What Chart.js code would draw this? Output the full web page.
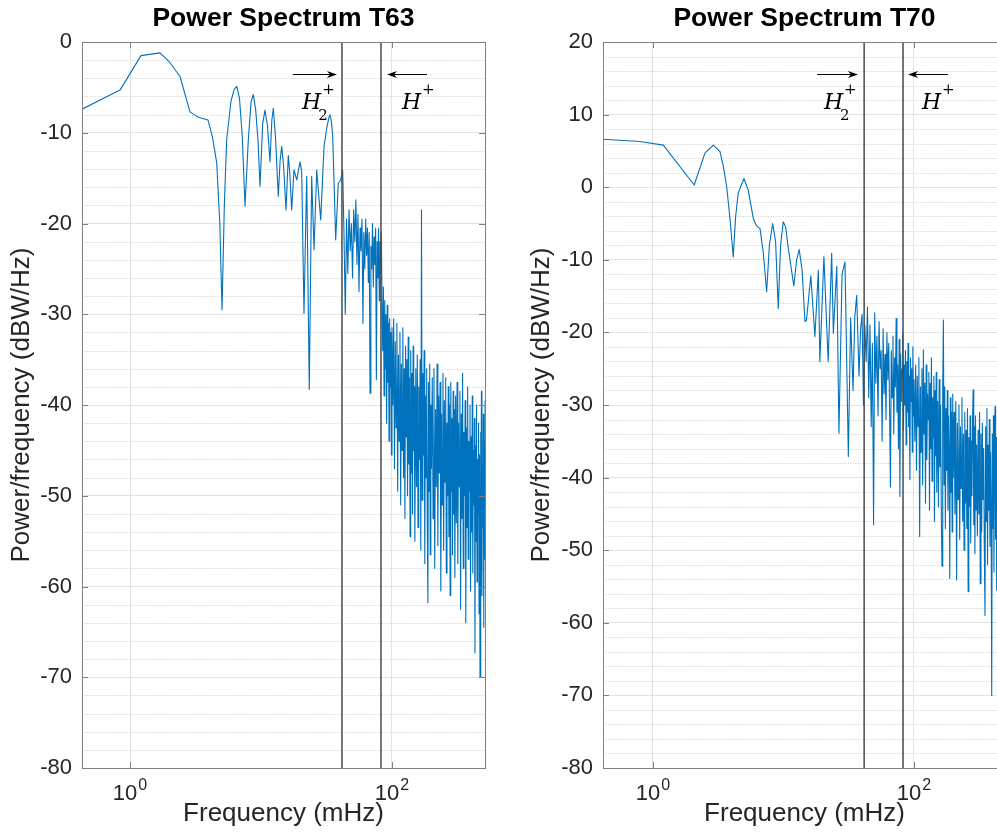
<!DOCTYPE html>
<html>
<head>
<meta charset="utf-8">
<title>Power Spectrum T63 / T70</title>
<script src="https://cdn.jsdelivr.net/npm/chart.js@4.4.1/dist/chart.umd.min.js"></script>
<style>
  html, body { margin: 0; padding: 0; background: #fff; overflow: hidden; }
  body { width: 997px; height: 834px; position: relative; }
  .panel { position: absolute; top: 0; height: 834px; }
  #panelT63 { left: 0; width: 520px; }
  #panelT70 { left: 520px; width: 500px; }
</style>
</head>
<body>
<div class="panel" id="panelT63"><canvas id="chartT63" width="520" height="834"></canvas></div>
<div class="panel" id="panelT70"><canvas id="chartT70" width="500" height="834"></canvas></div>
<script>
// low frequency part, mHz / dBW/Hz
const freqLowT63 = [0.43, 0.839, 1.213, 1.694, 2.0, 2.408, 2.87, 3.23, 3.53, 3.94,
  4.25, 4.59, 4.85, 5.04, 5.25, 5.47, 5.9, 6.25, 6.53, 6.85,
  7.2, 7.55, 8.0, 8.4, 8.73, 9.1, 9.5, 9.83, 10.3, 10.73,
  11.2, 11.71, 12.1, 12.42, 12.9, 13.55, 14.0, 14.39, 14.9, 15.52,
  16.16, 16.6, 17.15, 17.86, 18.73, 19.85, 20.45, 21.29, 22.33, 23.37,
  24.37, 25.41, 26.63, 28.57, 30.28, 31.76, 33.0, 33.65, 34.5, 35.27,
  37.17, 38.9, 40.57, 42.03];
const psdLowT63 = [-7.4, -5.3, -1.5, -1.2, -2.2, -3.8, -7.7, -8.2, -8.4, -8.6,
  -10.4, -13.3, -20.0, -29.5, -18.0, -10.8, -6.5, -5.2, -4.9, -6.2,
  -10.5, -18.1, -10.8, -6.6, -5.8, -7.4, -11.0, -15.9, -9.0, -7.5,
  -9.2, -13.2, -8.6, -7.3, -10.5, -17.0, -13.0, -11.5, -13.8, -18.5,
  -12.5, -14.5, -18.5, -14.1, -15.2, -13.2, -14.3, -29.9, -14.8, -38.3,
  -14.8, -22.9, -14.1, -19.6, -11.5, -9.5, -8.3, -8.0, -8.8, -10.4,
  -21.8, -15.6, -15.2, -14.1];

const freqLowT70 = [0.414, 0.795, 1.2, 2.07, 2.5, 2.9, 3.26, 3.45, 3.67, 3.9,
  4.12, 4.3, 4.5, 4.98, 5.37, 5.87, 6.2, 6.61, 7.0, 7.43,
  7.8, 8.26, 8.7, 9.12, 9.5, 9.96, 10.4, 10.8, 12.0, 12.6,
  13.2, 13.9, 14.6, 15.0, 16.2, 17.4, 18.5, 19.0, 20.4, 22.0,
  23.4, 24.1, 25.6, 26.6, 28.1, 29.6, 31.4, 32.7, 34.1, 35.2,
  36.4, 37.9, 39.0, 40.0, 41.0, 42.0];
const psdLowT70 = [6.6, 6.3, 5.8, 0.3, 4.7, 5.8, 4.9, 3.0, 0.1, -4.5,
  -9.6, -4.0, -0.8, 1.2, -0.4, -4.3, -5.3, -5.7, -9.0, -14.4,
  -8.0, -5.0, -7.5, -16.7, -8.0, -4.75, -5.5, -8.0, -13.6, -10.0,
  -8.6, -11.5, -18.5, -18.3, -12.2, -20.6, -11.4, -24.0, -9.6, -24.0,
  -9.1, -20.1, -10.9, -33.9, -12.0, -10.3, -37.1, -18.0, -28.0, -17.8,
  -14.9, -26.0, -19.5, -17.5, -30.0, -19.0];

// noisy high frequency part, same bins for both runs
const freqHigh = [
  43, 44, 45, 46, 47, 48, 49, 50, 51, 52, 53, 54, 55, 56, 57, 58, 59, 60, 61, 62, 63,
  64, 65, 66, 67, 68, 69, 70, 71, 72, 73, 74, 75, 76, 77, 78, 79, 80, 81, 82, 83, 84,
  85, 86, 87, 88, 89, 90, 91, 92, 93, 94, 95, 96, 97, 98, 99, 100,
  101.5, 103, 104.5, 106, 107.5, 109, 110.5, 112, 113.5, 115, 116.5, 118, 119.5, 121, 122.5, 124, 125.5,
  127, 128.5, 130, 131.5, 133, 134.5, 136, 137.5, 139, 140.5, 142, 143.5, 145, 146.5, 148, 149.5,
  152, 154, 156, 158, 160, 162, 164, 166, 168, 170, 172, 174, 176, 178, 180, 182, 184, 186, 188, 190,
  192, 194, 196, 198, 200,
  203, 206, 209, 212, 215, 218, 221, 224, 227, 230, 233, 236, 239, 242, 245, 248, 251, 254, 257, 260,
  263, 266, 269, 272, 275, 278, 281, 284, 287, 290, 293, 296, 299, 302,
  306, 310, 314, 318, 322, 326, 330, 334, 338, 342, 346, 350, 354, 358, 362, 366, 370, 374, 378, 382,
  386, 390, 394, 398, 402, 406, 410, 414, 418, 422, 426, 430, 434, 438, 442, 446, 450, 454, 458, 462,
  466, 470, 474, 478, 482, 486, 490, 494, 498, 502, 506, 510, 514, 518];
const psdHighT63 = [
  -21.0, -30.0, -19.5, -25.5, -18.5, -23.0, -20.0, -26.0, -18.5, -22.0, -17.4, -24.5, -19.0, -27.5, -20.5, -23.0, -19.5, -31.0, -21.0, -25.0, -19.5,
  -23.5, -20.5, -26.5, -21.0, -38.7, -22.5, -25.0, -20.0, -27.0, -21.5, -24.5, -20.5, -37.2, -22.0, -26.0, -20.5, -28.5, -22.0, -25.5, -21.0, -30.0,
  -34.0, -27.0, -39.0, -28.5, -36.0, -30.0, -42.0, -29.0, -37.5, -31.0, -44.0, -30.5, -38.0, -32.0, -45.5, -31.5,
  -40.0, -30.5, -47.0, -33.0, -42.5, -31.0, -49.5, -34.5, -44.0, -32.0, -51.0, -35.5, -45.0, -31.5, -48.0, -36.0, -52.5,
  -33.5, -43.5, -35.0, -50.0, -32.5, -46.5, -37.0, -54.5, -34.0, -47.5, -36.5, -52.0, -33.5, -45.0, -38.0, -55.0,
  -36.0, -49.0, -34.5, -53.5, -38.0, -46.0, -35.0, -56.0, -18.5, -50.5, -36.5, -45.5, -34.0, -57.5, -39.0, -48.0, -36.0, -53.0, -61.8, -37.5,
  -49.5, -35.5, -56.5, -40.0, -47.0,
  -37.0, -52.5, -36.0, -58.0, -40.5, -49.0, -35.5, -55.5, -39.0, -47.5, -37.5, -60.5, -41.0, -51.0, -36.5, -56.0, -39.5, -48.5, -37.0, -58.5,
  -42.0, -50.0, -38.0, -54.5, -40.0, -61.0, -37.5, -49.5, -41.5, -56.5, -38.5, -52.0, -40.5, -59.0,
  -39.0, -53.0, -37.5, -57.5, -42.0, -49.0, -38.5, -62.5, -41.0, -52.5, -36.5, -58.0, -43.0, -50.0, -39.5, -64.0, -42.5, -53.5, -38.0, -57.0,
  -44.0, -49.5, -40.0, -60.5, -43.5, -54.0, -39.0, -58.5, -45.0, -51.0, -41.5, -67.3, -44.5, -55.0, -40.0, -59.5, -46.0, -52.0, -42.0, -63.0,
  -45.5, -70.0, -43.0, -56.0, -38.5, -61.0, -46.5, -53.5, -41.0, -64.5, -44.0, -57.0, -39.5, -52.0];
const psdHighT70 = [
  -24.0, -16.5, -29.0, -19.0, -33.0, -21.5, -46.5, -17.3, -27.0, -20.5, -31.5, -18.5, -25.0, -22.5, -35.0, -19.5, -28.5, -23.0, -32.0, -20.0, -26.5,
  -21.5, -30.5, -41.3, -22.5, -29.0, -20.5, -34.0, -23.5, -27.5, -18.1, -31.0, -24.5, -36.0, -21.0, -42.6, -23.0, -29.5, -25.0, -20.1, -33.5, -24.5,
  -30.0, -22.5, -35.5, -24.0, -31.0, -21.5, -33.0, -26.0, -40.3, -23.5, -29.5, -25.0, -36.5, -22.0, -31.5, -26.5,
  -35.0, -24.5, -39.0, -26.0, -33.0, -23.5, -48.1, -27.5, -36.5, -25.0, -41.0, -22.4, -34.0, -27.0, -43.5, -24.5, -37.5,
  -28.5, -32.0, -25.5, -44.5, -27.0, -36.0, -23.5, -40.5, -29.0, -34.5, -26.0, -46.0, -28.0, -37.0, -25.5, -42.0,
  -29.5, -44.0, -26.5, -38.5, -30.0, -45.5, -52.2, -28.0, -18.3, -41.0, -27.5, -47.0, -30.5, -39.0, -28.0, -44.5, -31.5, -36.5, -53.9, -29.0,
  -42.0, -31.0, -47.5, -28.5, -40.0,
  -31.0, -45.0, -29.5, -54.1, -32.5, -43.0, -30.0, -48.5, -33.0, -41.5, -29.0, -46.0, -34.0, -50.0, -31.0, -43.5, -33.5, -47.0, -30.5, -55.7,
  -34.5, -44.0, -31.5, -49.0, -35.0, -42.5, -32.0, -27.9, -46.5, -33.0, -50.5, -31.5, -44.5, -35.5,
  -48.0, -33.5, -45.0, -31.0, -54.6, -34.0, -47.5, -32.5, -43.0, -36.0, -50.0, -59.0, -33.0, -46.0, -30.5, -52.0, -35.5, -44.5, -32.0, -49.5,
  -36.5, -45.0, -70.0, -34.0, -47.0, -31.5, -53.0, -36.0, -30.2, -48.5, -34.5, -55.5, -37.0, -45.5, -33.0, -51.0, -36.5, -47.5, -34.0, -53.5,
  -38.0, -46.0, -35.0, -50.5, -37.5, -44.0, -34.5, -52.0, -38.5, -47.5, -36.0, -53.0, -39.0, -48.0];

// ion gyrofrequency markers and x tick positions
const markerFreqs = [41.5, 82.4];
const xTickValues = [1, 100];

Chart.defaults.font.family = '"Liberation Sans", Arial, Helvetica, sans-serif';

const TICK_FONT = '22px "Liberation Sans", Arial, sans-serif';
const SUP_FONT = '16px "Liberation Sans", Arial, sans-serif';

// matlab style extras: dotted minor grid, box, inner ticks, arrows, labels
const matlabLook = {
    id: 'matlabLook',
    beforeDatasetsDraw(chart) {
        const {ctx, chartArea: a, scales: {y}} = chart;
        ctx.save();
        ctx.strokeStyle = '#cdcdcd';
        ctx.lineWidth = 1;
        ctx.setLineDash([1, 1.5]);
        for (let v = y.min; v <= y.max; v += 2) {
            if (v % 10 === 0) continue;
            const py = Math.round(y.getPixelForValue(v)) + 0.5;
            ctx.beginPath();
            ctx.moveTo(a.left, py);
            ctx.lineTo(a.right, py);
            ctx.stroke();
        }
        ctx.restore();
    },
    afterDatasetsDraw(chart, args, opts) {
        const {ctx, chartArea: a, scales: {x, y}} = chart;
        ctx.save();
        ctx.setLineDash([]);

        // box + inward ticks
        ctx.strokeStyle = '#808080';
        ctx.lineWidth = 1;
        ctx.strokeRect(Math.round(a.left) + 0.5, Math.round(a.top) + 0.5,
            Math.round(a.right - a.left), Math.round(a.bottom - a.top));
        ctx.beginPath();
        y.ticks.forEach(function (t) {
            const py = Math.round(y.getPixelForValue(t.value)) + 0.5;
            ctx.moveTo(a.left, py); ctx.lineTo(a.left + 6, py);
            ctx.moveTo(a.right, py); ctx.lineTo(a.right - 6, py);
        });
        x.ticks.forEach(function (t) {
            const px = Math.round(x.getPixelForValue(t.value)) + 0.5;
            ctx.moveTo(px, a.bottom); ctx.lineTo(px, a.bottom - 6);
            ctx.moveTo(px, a.top); ctx.lineTo(px, a.top + 6);
        });
        ctx.stroke();

        // arrows
        ctx.strokeStyle = '#000';
        ctx.fillStyle = '#000';
        ctx.lineWidth = 1.2;
        (opts.arrows || []).forEach(function (ar) {
            const x1 = x.getPixelForValue(ar.from);
            const x2 = x.getPixelForValue(ar.to);
            const py = Math.round(y.getPixelForValue(ar.y)) + 0.5;
            const dir = Math.sign(x2 - x1);
            ctx.beginPath();
            ctx.moveTo(x1, py);
            ctx.lineTo(x2 - dir * 6, py);
            ctx.stroke();
            ctx.beginPath();
            ctx.moveTo(x2, py);
            ctx.lineTo(x2 - dir * 10, py - 3.5);
            ctx.lineTo(x2 - dir * 7, py);
            ctx.lineTo(x2 - dir * 10, py + 3.5);
            ctx.closePath();
            ctx.fill();
        });

        // ion labels (H2+, H+)
        ctx.textAlign = 'left';
        ctx.textBaseline = 'alphabetic';
        (opts.ions || []).forEach(function (ion) {
            const px = x.getPixelForValue(ion.f);
            const py = y.getPixelForValue(ion.y);
            ctx.font = 'italic 22px "DejaVu Serif", serif';
            ctx.fillText(ion.base, px, py);
            const w = ctx.measureText(ion.base).width;
            ctx.font = '15px "DejaVu Serif", serif';
            if (ion.sub) ctx.fillText(ion.sub, px + w - 3, py + 11);
            if (ion.sup) ctx.fillText(ion.sup, px + w + 1, py - 15);
        });

        // x tick labels 10^n
        ctx.fillStyle = '#262626';
        x.ticks.forEach(function (t) {
            const e = String(Math.round(Math.log10(t.value)));
            const px = x.getPixelForValue(t.value);
            ctx.font = TICK_FONT;
            const wb = ctx.measureText('10').width;
            ctx.font = SUP_FONT;
            const we = ctx.measureText(e).width;
            const x0 = px - (wb + we + 1) / 2;
            ctx.font = TICK_FONT;
            ctx.fillText('10', x0, a.bottom + 32);
            ctx.font = SUP_FONT;
            ctx.fillText(e, x0 + wb + 1, a.bottom + 22);
        });
        ctx.restore();
    }
};

function buildChart(canvasId, cfg) {
    const points = [];
    cfg.freqLow.forEach(function (f, i) { points.push({x: f, y: cfg.psdLow[i]}); });
    freqHigh.forEach(function (f, i) { points.push({x: f, y: cfg.psdHigh[i]}); });

    const datasets = [{
        label: cfg.title,
        data: points,
        borderColor: '#0072bd',
        borderWidth: 1.1,
        borderJoinStyle: 'round',
        pointRadius: 0,
        tension: 0,
        order: 1
    }];
    markerFreqs.forEach(function (f) {
        datasets.push({
            data: [{x: f, y: cfg.yMin}, {x: f, y: cfg.yMax}],
            borderColor: '#4a4a4a',
            borderWidth: 1.5,
            pointRadius: 0,
            order: 0
        });
    });

    return new Chart(document.getElementById(canvasId), {
        type: 'line',
        data: { datasets: datasets },
        plugins: [matlabLook],
        options: {
            responsive: false,
            animation: false,
            devicePixelRatio: 1,
            layout: { padding: { left: 0, right: cfg.padRight, top: 0, bottom: 0 } },
            plugins: {
                legend: { display: false },
                tooltip: { enabled: false },
                title: {
                    display: true,
                    text: cfg.title,
                    fullSize: false,
                    color: '#000',
                    font: { size: 26.5, weight: 'bold', lineHeight: 1.2 },
                    padding: { top: 2.5, bottom: 7.7 }
                },
                matlabLook: { arrows: cfg.arrows, ions: cfg.ions }
            },
            scales: {
                x: {
                    type: 'logarithmic',
                    min: cfg.xMin,
                    max: cfg.xMax,
                    afterBuildTicks: function (s) { s.ticks = xTickValues.map(function (v) { return {value: v}; }); },
                    afterFit: function (s) { s.height = 66; },
                    ticks: { display: false },
                    grid: { color: '#e3e3e3', drawTicks: false },
                    border: { display: false },
                    title: {
                        display: true,
                        text: 'Frequency (mHz)',
                        color: '#262626',
                        font: { size: 26, lineHeight: 1.2 },
                        padding: { top: 0, bottom: 5 }
                    }
                },
                y: {
                    min: cfg.yMin,
                    max: cfg.yMax,
                    afterFit: function (s) { s.width = cfg.yAxisWidth; },
                    ticks: { stepSize: 10, autoSkip: false, color: '#262626', font: { size: 22 }, padding: 10 },
                    grid: { color: '#e3e3e3', drawTicks: false },
                    border: { display: false },
                    title: {
                        display: true,
                        text: 'Power/frequency (dBW/Hz)',
                        color: '#262626',
                        font: { size: 26, lineHeight: 1.2 },
                        padding: { top: 6, bottom: 0 }
                    }
                }
            }
        }
    });
}

buildChart('chartT63', {
    title: 'Power Spectrum T63',
    freqLow: freqLowT63, psdLow: psdLowT63, psdHigh: psdHighT63,
    xMin: 0.43, xMax: 513, yMin: -80, yMax: 0,
    yAxisWidth: 82, padRight: 35,
    arrows: [{from: 17.5, to: 38.0, y: -3.5}, {from: 185, to: 91.6, y: -3.5}],
    ions: [{base: 'H', sub: '2', sup: '+', f: 20.6, y: -7.4}, {base: 'H', sub: '', sup: '+', f: 119, y: -7.4}]
});

buildChart('chartT70', {
    title: 'Power Spectrum T70',
    freqLow: freqLowT70, psdLow: psdLowT70, psdHigh: psdHighT70,
    xMin: 0.414, xMax: 507, yMin: -80, yMax: 20,
    yAxisWidth: 83, padRight: 14,
    arrows: [{from: 18.1, to: 37.2, y: 15.6}, {from: 182, to: 90.0, y: 15.6}],
    ions: [{base: 'H', sub: '2', sup: '+', f: 20.4, y: 10.8}, {base: 'H', sub: '', sup: '+', f: 115, y: 10.8}]
});
</script>
</body>
</html>
